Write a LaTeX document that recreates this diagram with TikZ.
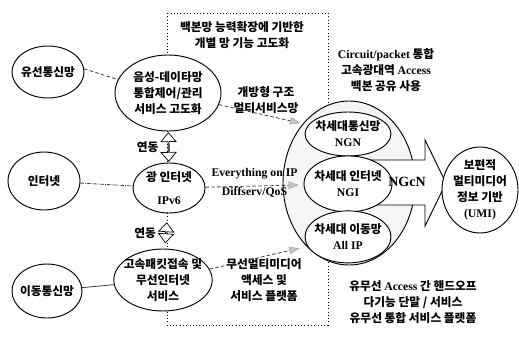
\documentclass[tikz,border=0pt]{standalone}
\usepackage{fontspec}
\setmainfont{Liberation Serif}
\newfontfamily\kr{Noto Sans CJK KR}
\newcommand\en[1]{{\rmfamily\bfseries #1}}
\usetikzlibrary{positioning, arrows.meta, shapes.geometric, shapes.arrows}

\begin{document}
\begin{tikzpicture}[
    x=0.3mm, y=-0.3mm,
    every node/.style={font=\kr\bfseries\fontsize{10}{13.6}\selectfont, align=center, inner sep=0pt},
    net/.style={draw, ellipse, line width=0.8pt, fill=white, inner sep=-4mm},
    zone/.style={dotted, line width=0.8pt},
    link/.style={draw=black!75, line width=0.7pt},
    feed/.style={draw=black!75, densely dashed, line width=0.7pt, shorten >=1.5mm,
        -{Triangle[length=3mm, width=2.2mm, color=gray!80, fill=gray!45, line width=0.4pt]}},
    sync/.style={draw, fill=white, double arrow, double arrow head extend=1.2mm,
        double arrow tip angle=80, minimum width=4.5mm, inner sep=0pt, line width=0.6pt, sloped},
    blockarrow/.style={draw, fill=white, line width=0.8pt}
]
\useasboundingbox (0,0) rectangle (519,338);

% --- Dotted frame round the backbone column ---
\draw[zone] (167,13) rectangle (328,325);

% --- Left column: existing networks ---
\node[net, minimum width=21.6mm, minimum height=15.6mm] (wired) at (48,72) {유선통신망};
\node[net, minimum width=21.6mm, minimum height=17.4mm] (inet) at (44,181) {인터넷};
\node[net, minimum width=21mm, minimum height=16.2mm] (mobile) at (47,291) {이동통신망};

% --- Middle column: upgraded services ---
\node[net, minimum width=31.8mm, minimum height=22.8mm] (voice) at (168,93) {음성-데이타망\\통합제어/관리\\서비스 고도화};
\node[net, minimum width=21.6mm, minimum height=15mm] (optical) at (169,188) {광 인터넷\\[2mm]\en{IPv6}};
\node[net, minimum width=29.5mm, minimum height=18.6mm] (packet) at (163,280) {고속패킷접속 및\\무선인터넷\\서비스};

% --- Right: next generation network and its three parts ---
\node[net, fill=gray!8, minimum width=39.6mm, minimum height=49.2mm] (nextgen) at (349,183) {};
\draw[blockarrow] (360,160) -- (425,160) -- (425,140) -- (446,183) -- (425,226) -- (425,205) -- (360,205) -- cycle;
\node[net, minimum width=25.8mm, minimum height=13.2mm] (ngn) at (348,134) {차세대통신망\\\en{NGN}};
\node[net, minimum width=26.4mm, minimum height=16.8mm, below=-0.3mm of ngn] (ngi) {차세대 인터넷\\\en{NGI}};
\node[net, minimum width=25.8mm, minimum height=15.6mm, below=-0.6mm of ngi] (allip) {차세대 이동망\\\en{All IP}};
\node (ngcn) at (407,182) {\en{\fontsize{12}{12}\selectfont NGcN}};
\node[net, minimum width=22.8mm, minimum height=25.8mm] (umi) at (480,190) {보편적\\멀티미디어\\정보 기반\\\en{(UMI)}};

% --- Free texts ---
\node (backbone) at (242,35) {백본망 능력확장에 기반한\\개별 망 기능 고도화};
\node (openarch) at (266,100) {개방형 구조\\멀티서비스망};
\node (circuit) at (386,70) {\en{Circuit/packet} 통합\\고속광대역 \en{Access}\\백본 공유 사용};
\node (wireless) at (264,280) {무선멀티미디어\\액세스 및\\서비스 플랫폼};
\node (handoff) at (413,302) {유무선 \en{Access} 간 핸드오프\\다기능 단말 / 서비스\\유무선 통합 서비스 플랫폼};

% --- Connections ---
\draw[link, densely dashed] (wired.5) -- (voice.165);
\draw[link, densely dashdotted] (inet) -- (optical);
\draw[link] (mobile) -- (packet);
\draw[feed, shorten >=2.5mm] (voice) -- (ngn);
\draw[feed] (optical) -- node[above=2mm]{\en{Everything on IP}} node[below=0.3mm]{\en{Diffserv/QoS}} (ngi);
\draw[feed, shorten >=2.5mm] (packet) -- (allip);

% interworking arrows
\path (voice) -- node[sync, minimum height=8.6mm]{} node[left=3mm]{연동} (optical);
\path (optical) -- node[sync, pos=0.55, minimum height=6mm]{} node[pos=0.55, left=3mm]{연동} (packet);

\end{tikzpicture}
\end{document}
